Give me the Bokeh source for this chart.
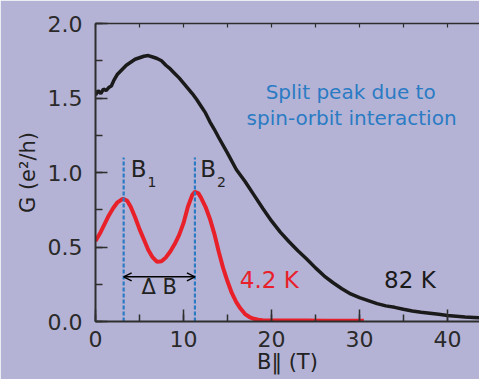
import numpy as np
from bokeh.plotting import figure
from bokeh.models import (Range1d, LinearAxis, SingleIntervalTicker, PrintfTickFormatter,
                          Label, Arrow, OpenHead)
from bokeh.embed import file_html
from bokeh.resources import INLINE

# ---- data ----
b_82 = [0, 0.3, 0.6, 0.9, 1.2, 1.5, 1.8, 2.1, 2.5, 3.0, 3.5, 4.0, 4.5, 5.0, 5.5, 6.0, 6.5,
        7.0, 7.5, 8.0, 8.5, 9.0, 9.5, 10.0, 10.5, 11.0, 11.5, 12.0, 12.5, 13.0, 13.5, 14.0,
        15.0, 16.0, 17.0, 18.0, 19.0, 20.0, 21.0, 22.0, 23.0, 24.0, 25.0, 26.0, 27.0, 28.0,
        29.0, 30.0, 31.0, 32.0, 33.0, 34.0, 35.0, 36.0, 37.0, 38.0, 39.0, 40.0, 41.0, 42.0,
        43.0, 44.0]
g_82 = [1.52, 1.55, 1.53, 1.56, 1.55, 1.57, 1.58, 1.62, 1.66, 1.69, 1.72, 1.74, 1.76, 1.77,
        1.78, 1.785, 1.775, 1.765, 1.75, 1.72, 1.695, 1.665, 1.635, 1.60, 1.565, 1.53, 1.49,
        1.445, 1.40, 1.34, 1.29, 1.235, 1.13, 1.02, 0.94, 0.85, 0.76, 0.675, 0.60, 0.535,
        0.475, 0.42, 0.36, 0.305, 0.26, 0.22, 0.185, 0.16, 0.14, 0.12, 0.105, 0.095, 0.082,
        0.07, 0.062, 0.055, 0.048, 0.04, 0.035, 0.03, 0.027, 0.024]

b_42 = [0, 0.5, 1.0, 1.5, 2.0, 2.5, 3.0, 3.2, 3.6, 4.0, 4.5, 5.0, 5.5, 6.0, 6.5, 7.0, 7.5,
        8.0, 8.5, 9.0, 9.5, 10.0, 10.5, 11.0, 11.3, 11.7, 12.0, 12.5, 13.0, 13.5, 14.0, 14.5,
        15.0, 15.5, 16.0, 16.5, 17.0, 17.5, 18.0, 18.5, 19.0, 20.0, 22.0, 24.0, 26.0, 28.0, 30.5]
g_42 = [0.54, 0.59, 0.65, 0.71, 0.76, 0.80, 0.82, 0.822, 0.81, 0.77, 0.70, 0.62, 0.55, 0.48,
        0.43, 0.40, 0.405, 0.43, 0.47, 0.52, 0.58, 0.66, 0.77, 0.85, 0.87, 0.86, 0.83, 0.77,
        0.69, 0.59, 0.47, 0.36, 0.27, 0.19, 0.13, 0.085, 0.05, 0.03, 0.018, 0.012, 0.009,
        0.007, 0.006, 0.006, 0.005, 0.005, 0.005]

peak_b1 = 3.2
peak_b2 = 11.3
marker_top = 1.10
arrow_g = 0.30

x_ticks_interval = 10
y_ticks_interval = 0.5

BG = "#b5b3d5"
AX = "#2e2e2e"
BLUE = "#2a7bc4"
RED = "#e8202a"
FONT = "DejaVu Sans"

p = figure(width=479, height=379, output_backend="svg", toolbar_location=None,
           x_range=Range1d(0, 43.64), y_range=Range1d(0, 2.0),
           min_border_left=95, min_border_right=0, min_border_top=23, min_border_bottom=58)
p.background_fill_color = BG
p.border_fill_color = BG
p.outline_line_color = None
p.grid.visible = False

for ax, interval, fmt in ((p.xaxis[0], x_ticks_interval, "%d"), (p.yaxis[0], y_ticks_interval, "%.1f")):
    ax.ticker = SingleIntervalTicker(interval=interval, num_minor_ticks=2)
    ax.formatter = PrintfTickFormatter(format=fmt)
    ax.major_tick_in = 12
    ax.major_tick_out = 0
    ax.minor_tick_in = 7
    ax.minor_tick_out = 0
    ax.axis_line_color = AX
    ax.axis_line_width = 2
    ax.major_tick_line_color = AX
    ax.major_tick_line_width = 1.5
    ax.minor_tick_line_color = AX
    ax.minor_tick_line_width = 1.5
    ax.major_label_text_font = FONT
    ax.major_label_text_font_size = "22px"
    ax.major_label_text_color = "#2a2a2a"
    ax.axis_label_text_font = FONT
    ax.axis_label_text_font_style = "normal"
    ax.axis_label_text_color = "#222222"
p.yaxis[0].major_label_standoff = 13
p.xaxis[0].major_label_standoff = 9
p.yaxis[0].axis_label = "G (e²/h)"
p.yaxis[0].axis_label_text_font_size = "21px"
p.yaxis[0].axis_label_standoff = 5
p.xaxis[0].axis_label = "B‖ (T)"
p.xaxis[0].axis_label_text_font_size = "21px"
p.xaxis[0].axis_label_standoff = 0

top = LinearAxis(ticker=SingleIntervalTicker(interval=5, num_minor_ticks=0),
                 major_label_text_color=None, major_label_standoff=0,
                 major_tick_in=4, major_tick_out=0, minor_tick_in=0, minor_tick_out=0,
                 axis_line_color=AX, axis_line_width=1.5,
                 major_tick_line_color=AX, major_tick_line_width=1.2)
p.add_layout(top, "above")

# curves
p.line(b_82, g_82, line_color="#1a1a1a", line_width=3.5)
p.line(b_42, g_42, line_color=RED, line_width=4)

# dashed markers
p.segment(x0=[peak_b1, peak_b2], y0=[0, 0], x1=[peak_b1, peak_b2], y1=[marker_top, marker_top],
          line_color=BLUE, line_width=2.2, line_dash="4 2")

# double arrow
p.add_layout(Arrow(start=OpenHead(size=8, line_width=1.5, line_color="black"),
                   end=OpenHead(size=8, line_width=1.5, line_color="black"),
                   x_start=peak_b1, y_start=arrow_g, x_end=peak_b2, y_end=arrow_g,
                   line_width=1.5, line_color="black"))

def lab(x, y, t, size, color="#222222", **kw):
    p.add_layout(Label(x=x, y=y, text=t, text_font=FONT, text_font_size=size,
                       text_color=color, **kw))

# B1, B2
lab(4.0, 0.935, "B", "23px")
lab(5.9, 0.90, "1", "14px")
lab(11.9, 0.935, "B", "23px")
lab(13.8, 0.90, "2", "14px")
# Delta B
lab((peak_b1 + peak_b2) / 2, 0.152, "Δ B", "21px", text_align="center")
# temperatures
lab(16.4, 0.19, "4.2 K", "23px", color=RED)
lab(32.8, 0.19, "82 K", "23px", color="#1a1a1a")
# blue note
lab(29.0, 1.537, "Split peak due to", "20px", color=BLUE, text_align="center", text_baseline="middle")
lab(29.1, 1.369, "spin-orbit interaction", "20px", color=BLUE, text_align="center", text_baseline="middle")

open("out.html", "w").write(file_html(p, INLINE))
